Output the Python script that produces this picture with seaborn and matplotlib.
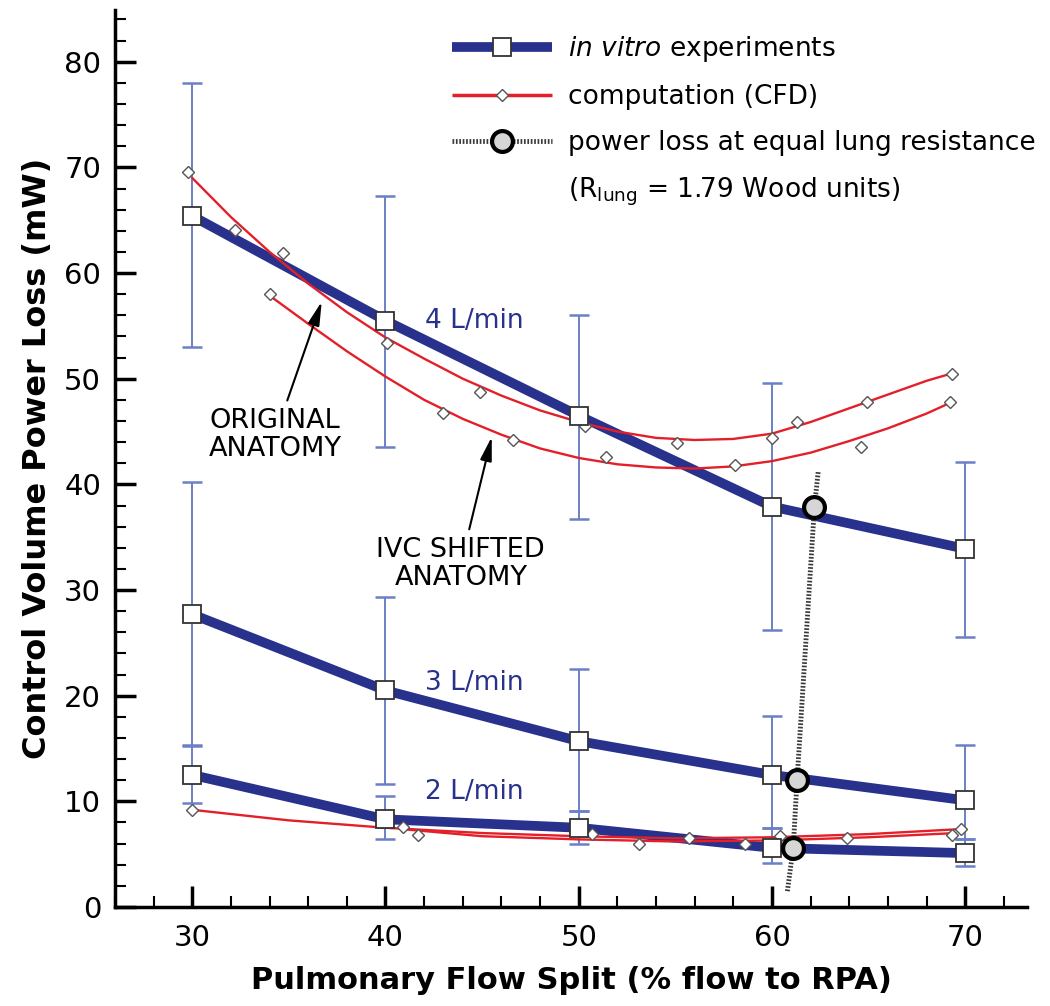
import numpy as np
import pandas as pd
import seaborn as sns
import matplotlib
matplotlib.use("Agg")
import matplotlib.pyplot as plt
from matplotlib.lines import Line2D
from matplotlib.ticker import MultipleLocator

# ---------------- data ----------------
split = [30, 40, 50, 60, 70]

exp_4 = [65.4, 55.5, 46.5, 37.9, 33.9]
exp_4_hi = [78.0, 67.3, 56.0, 49.6, 42.1]
exp_4_lo = [53.0, 43.5, 36.7, 26.2, 25.6]

exp_3 = [27.7, 20.5, 15.7, 12.5, 10.1]
exp_3_hi = [40.2, 29.3, 22.5, 18.1, 15.3]
exp_3_lo = [15.3, 11.6, 9.1, 7.5, 6.4]

exp_2 = [12.5, 8.3, 7.5, 5.6, 5.1]
exp_2_hi = [15.2, 10.5, 9.1, 7.5, 6.4]
exp_2_lo = [9.8, 6.4, 6.0, 4.2, 3.9]

# CFD fitted curves, 4 L/min
orig4_x = [30, 32, 34, 36, 38, 40, 42, 44, 46, 48, 50, 52, 54, 56, 58, 60, 62, 64, 66, 68, 69.3]
orig4_y = [69.0, 65.3, 62.0, 59.0, 56.3, 53.9, 51.9, 50.0, 48.4, 47.0, 45.9, 45.0, 44.4, 44.2,
           44.3, 44.8, 45.9, 47.2, 48.5, 49.8, 50.5]
ivc4_x = [34.2, 36, 38, 40, 42, 44, 46, 48, 50, 52, 54, 56, 58, 60, 62, 64, 66, 68, 69.2]
ivc4_y = [57.6, 55.2, 52.6, 50.2, 48.0, 46.2, 44.7, 43.4, 42.5, 41.9, 41.6, 41.5, 41.7, 42.2,
          43.0, 44.1, 45.3, 46.7, 47.7]
# CFD simulation points, 4 L/min
orig4_pt_x = [29.8, 32.2, 34.7, 40.1, 44.9, 50.3, 55.1, 60.0, 61.3, 64.9, 69.3]
orig4_pt_y = [69.6, 64.1, 61.9, 53.4, 48.7, 45.5, 43.9, 44.4, 45.9, 47.8, 50.4]
ivc4_pt_x = [34.0, 43.0, 46.6, 51.4, 58.1, 64.6, 69.2]
ivc4_pt_y = [58.0, 46.8, 44.2, 42.6, 41.8, 43.5, 47.8]

# CFD fitted curves, 2 L/min
orig2_x = [30, 35, 40, 45, 50, 55, 60, 65, 70]
orig2_y = [9.2, 8.2, 7.5, 7.0, 6.7, 6.5, 6.6, 6.9, 7.4]
ivc2_x = [40.7, 45, 50, 55, 60, 65, 69.5]
ivc2_y = [7.4, 6.7, 6.4, 6.2, 6.3, 6.6, 7.0]
orig2_pt_x = [30, 40.9, 50.7, 55.7, 60.4, 69.8]
orig2_pt_y = [9.2, 7.6, 6.9, 6.5, 6.7, 7.4]
ivc2_pt_x = [41.7, 53.1, 58.6, 63.9, 69.3]
ivc2_pt_y = [6.8, 6.0, 6.0, 6.5, 6.8]

# power loss at equal lung resistance
pl_x = [61.1, 61.3, 62.2]
pl_y = [5.6, 12.0, 37.9]
pl_line_x = [60.8, 61.1, 61.3, 62.2, 62.4]
pl_line_y = [1.5, 5.6, 12.0, 37.9, 41.3]

flow_labels = ["4 L/min", "3 L/min", "2 L/min"]

# ---------------- style ----------------
sns.set_style("ticks")
plt.rcParams["font.family"] = ["DejaVu Sans"]
plt.rcParams["mathtext.fontset"] = "dejavusans"
plt.rcParams["text.color"] = "black"
plt.rcParams["axes.labelcolor"] = "black"
plt.rcParams["xtick.color"] = "black"
plt.rcParams["ytick.color"] = "black"

BLUE = "#28318C"
EBLUE = "#6B80C6"
RED = "#E3202A"

fig = plt.figure(figsize=(10.5, 10.06), dpi=100)
ax = fig.add_axes([0.1095, 0.0984, 0.8686, 0.8917])
ax.set_facecolor("white")

# error bars
for y, hi, lo in [(exp_4, exp_4_hi, exp_4_lo), (exp_3, exp_3_hi, exp_3_lo), (exp_2, exp_2_hi, exp_2_lo)]:
    y = np.array(y); hi = np.array(hi); lo = np.array(lo)
    ax.errorbar(split, y, yerr=[y - lo, hi - y], fmt="none", ecolor=EBLUE,
                elinewidth=1.4, capsize=7, capthick=1.8, zorder=1)

# experiments (blue lines)
for y in [exp_4, exp_3, exp_2]:
    df = pd.DataFrame({"x": split, "y": y})
    sns.lineplot(data=df, x="x", y="y", ax=ax, color=BLUE, lw=7, estimator=None,
                 sort=False, zorder=2)

# CFD curves
for cx, cy in [(orig4_x, orig4_y), (ivc4_x, ivc4_y), (orig2_x, orig2_y), (ivc2_x, ivc2_y)]:
    df = pd.DataFrame({"x": cx, "y": cy})
    sns.lineplot(data=df, x="x", y="y", ax=ax, color=RED, lw=1.7, estimator=None,
                 sort=False, zorder=3)
for px, py in [(orig4_pt_x, orig4_pt_y), (ivc4_pt_x, ivc4_pt_y), (orig2_pt_x, orig2_pt_y), (ivc2_pt_x, ivc2_pt_y)]:
    ax.plot(px, py, ls="none", marker="D", ms=6, mfc="white", mec="#555555", mew=1.0, zorder=4)

# experiment markers
for y in [exp_4, exp_3, exp_2]:
    ax.plot(split, y, ls="none", marker="s", ms=13, mfc="white", mec="#333333", mew=1.3, zorder=5)

# power loss at equal lung resistance
ax.plot(pl_line_x, pl_line_y, color="#3a3a3a", lw=3.5, ls=(0, (0.35, 0.35)), zorder=6)
ax.plot(pl_x, pl_y, ls="none", marker="o", ms=15, mfc="#d6d6d6", mec="black", mew=3, zorder=7)

# flow labels
for lab, yy in zip(flow_labels, [55.5, 21.2, 10.9]):
    ax.text(44.6, yy, lab, color=BLUE, fontsize=19, ha="center", va="center", zorder=8)

# anatomy annotations
arrow = dict(arrowstyle="-|>,head_length=0.9,head_width=0.22", color="black", lw=1.5,
             mutation_scale=16, shrinkA=3, shrinkB=0)
ax.annotate("ORIGINAL\nANATOMY", xy=(36.7, 57.3), xytext=(34.3, 44.7),
            ha="center", va="center", fontsize=19.5, linespacing=1.1, arrowprops=arrow)
ax.annotate("IVC SHIFTED\nANATOMY", xy=(45.5, 44.5), xytext=(43.9, 32.5),
            ha="center", va="center", fontsize=19.5, linespacing=1.1, arrowprops=arrow)

# axes
ax.set_xlim(26, 73.2)
ax.set_ylim(0, 84.9)
ax.xaxis.set_major_locator(MultipleLocator(10))
ax.xaxis.set_minor_locator(MultipleLocator(2))
ax.yaxis.set_major_locator(MultipleLocator(10))
ax.yaxis.set_minor_locator(MultipleLocator(2))
ax.tick_params(which="major", direction="in", length=15, width=2.5, labelsize=21, pad=10)
ax.tick_params(which="minor", direction="in", length=8, width=1.5)
ax.tick_params(axis="x", which="major", pad=12)
for s in ["top", "right"]:
    ax.spines[s].set_visible(False)
for s in ["left", "bottom"]:
    ax.spines[s].set_linewidth(2.5)
    ax.spines[s].set_color("black")

ax.set_xlabel("Pulmonary Flow Split (% flow to RPA)", fontsize=22, fontweight="bold", labelpad=10)
ax.set_ylabel("Control Volume Power Loss (mW)", fontsize=23, fontweight="bold", labelpad=8)

# legend
h1 = Line2D([], [], color=BLUE, lw=7, marker="s", ms=13, mfc="white", mec="#333333", mew=1.3,
            solid_capstyle="butt")
h2 = Line2D([], [], color=RED, lw=2.5, marker="D", ms=6, mfc="white", mec="#555555",
            solid_capstyle="butt")
h3 = Line2D([], [], color="#3a3a3a", lw=3.5, ls=(0, (0.35, 0.35)), marker="o", ms=15,
            mfc="#d6d6d6", mec="black", mew=3)
h4 = Line2D([], [], color="none")
leg = ax.legend([h1, h2, h3, h4],
                [r"$\mathit{in\ vitro}$ experiments", "computation (CFD)",
                 "power loss at equal lung resistance",
                 r"(R$_{\mathregular{lung}}$ = 1.79 Wood units)"],
                loc="upper left", bbox_to_anchor=(0.3695, 0.973), frameon=False,
                fontsize=19, numpoints=1, handlelength=3.8, handletextpad=0.6,
                labelspacing=0.75, borderpad=0, borderaxespad=0)

fig.savefig("out.png", dpi=100, facecolor="white")
